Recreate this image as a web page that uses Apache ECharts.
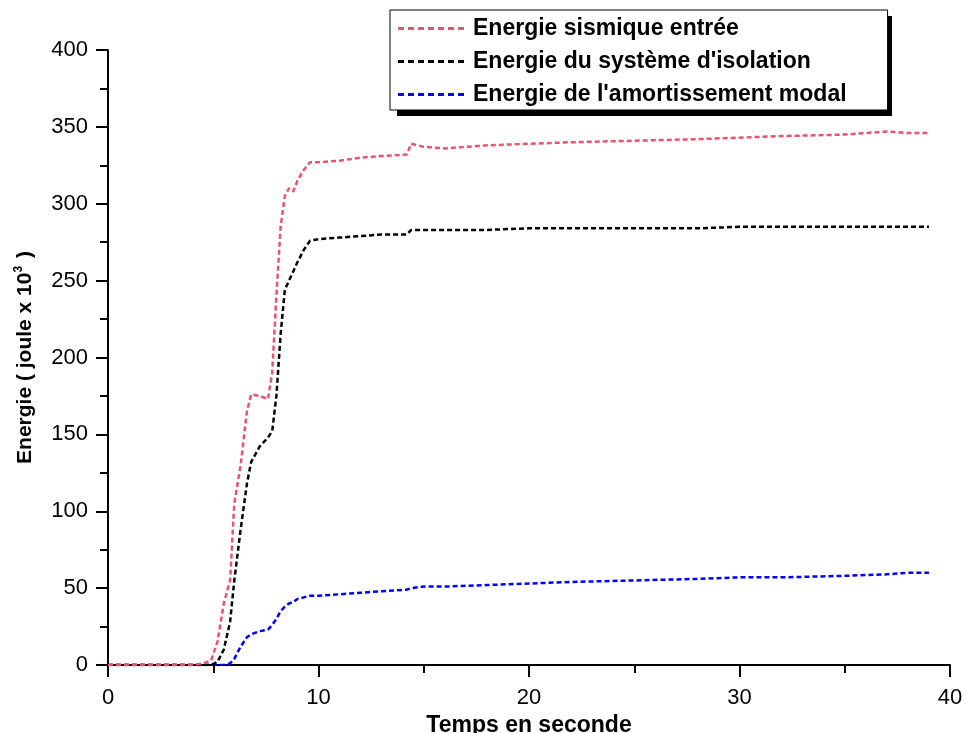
<!DOCTYPE html>
<html><head><meta charset="utf-8">
<script src="https://cdn.jsdelivr.net/npm/echarts@6/dist/echarts.min.js"></script>
<style>html,body{margin:0;padding:0;background:#fff}#c{width:966px;height:733px}</style>
</head><body><div id="c"></div>
<script>
const seriesNames = ['Energie sismique entrée', "Energie du système d'isolation", "Energie de l'amortissement modal"];
const time  = [0, 4, 4.5, 4.9, 5.2, 5.5, 5.8, 6.0, 6.3, 6.6, 6.8, 7.2, 7.6, 7.8, 8.0, 8.2, 8.4, 8.6, 8.8, 9.0, 9.3, 9.6, 10, 11, 12, 13, 14.2, 14.4, 15, 16, 18, 20, 22, 25, 28, 30, 32, 35, 37, 38, 39];
const inputEnergy = [0, 0, 1, 3, 15, 40, 55, 105, 130, 165, 176, 175, 173, 190, 240, 285, 305, 310, 308, 315, 322, 327, 327, 328, 330, 331, 332, 339, 337, 336, 338, 339, 340, 341, 342, 343, 344, 345, 347, 346, 346];
const isolationEnergy = [0, 0, 0, 0, 2, 10, 28, 55, 88, 118, 132, 142, 148, 152, 175, 215, 244, 250, 256, 262, 270, 276, 277, 278, 279, 280, 280, 283, 283, 283, 283, 284, 284, 284, 284, 285, 285, 285, 285, 285, 285];
const dampingEnergy = [0, 0, 0, 0, 0, 0, 1, 4, 12, 18, 20, 22, 23, 26, 30, 35, 38, 40, 41, 43, 44, 45, 45, 46, 47, 48, 49, 50, 51, 51, 52, 53, 54, 55, 56, 57, 57, 58, 59, 60, 60];
const xTicks = [0, 10, 20, 30, 40];
const yTicks = [0, 50, 100, 150, 200, 250, 300, 350, 400];

const colors = ['#e8536f', '#000000', '#0000ff'];
const values = [inputEnergy, isolationEnergy, dampingEnergy];
const font = 'Liberation Sans, Arial, sans-serif';
// dashed legend key shape (7 dashes)
const dashIcon = 'path://M0,0h6v3h-6z M10,0h6v3h-6z M20,0h6v3h-6z M30,0h6v3h-6z M40,0h6v3h-6z M50,0h6v3h-6z M60,0h6v3h-6z';

const chart = echarts.init(document.getElementById('c'));
chart.setOption({
  animation: false,
  backgroundColor: '#fff',
  grid: {left: 108, right: 16, top: 50, bottom: 68, outerBoundsMode: 'none', containLabel: false},
  graphic: [{
    type: 'rect', left: 397, top: 16, z: 0, silent: true,
    shape: {width: 495, height: 100},
    style: {fill: '#000'}
  }],
  legend: {
    orient: 'vertical', left: 390, top: 10, z: 10,
    padding: [7, 41, 4, 8],
    itemGap: 10,
    itemWidth: 66, itemHeight: 3,
    backgroundColor: '#fff',
    borderColor: '#000', borderWidth: 1, borderRadius: 0,
    icon: dashIcon,
    textStyle: {fontFamily: font, fontWeight: 'bold', fontSize: 23, color: '#000', padding: [0, 0, 0, 4]},
    data: seriesNames
  },
  xAxis: {
    type: 'value', min: xTicks[0], max: xTicks[xTicks.length - 1], interval: 10,
    name: 'Temps en seconde', nameLocation: 'middle', nameGap: 45,
    nameTextStyle: {fontFamily: font, fontWeight: 'bold', fontSize: 23, color: '#000'},
    axisLine: {show: true, lineStyle: {color: '#000', width: 2}},
    axisTick: {show: true, inside: false, length: 12, lineStyle: {color: '#000', width: 2}},
    minorTick: {show: true, splitNumber: 2, length: 8, lineStyle: {color: '#000', width: 2}},
    axisLabel: {fontFamily: font, fontSize: 22, color: '#000', margin: 22},
    splitLine: {show: false}
  },
  yAxis: {
    type: 'value', min: yTicks[0], max: yTicks[yTicks.length - 1], interval: 50,
    name: '{a|Energie ( joule x 10}{s|3}{a| )}', nameLocation: 'middle', nameGap: 71, nameRotate: 90,
    nameTextStyle: {
      rich: {
        a: {fontFamily: font, fontWeight: 'bold', fontSize: 21, color: '#000'},
        s: {fontFamily: font, fontWeight: 'bold', fontSize: 12, color: '#000', verticalAlign: 'top', padding: [0, 2, 12, 0]}
      }
    },
    axisLine: {show: true, lineStyle: {color: '#000', width: 2}},
    axisTick: {show: true, inside: false, length: 12, lineStyle: {color: '#000', width: 2}},
    minorTick: {show: true, splitNumber: 2, length: 8, lineStyle: {color: '#000', width: 2}},
    axisLabel: {fontFamily: font, fontSize: 22, color: '#000', margin: 20},
    splitLine: {show: false}
  },
  series: seriesNames.map((n, i) => ({
    name: n, type: 'line', showSymbol: false, symbol: 'none',
    color: colors[i],
    lineStyle: {color: colors[i], width: 2.5, type: [5, 3]},
    data: time.map((t, k) => [t, values[i][k]]),
    z: 3 - i
  }))
});
</script></body></html>
